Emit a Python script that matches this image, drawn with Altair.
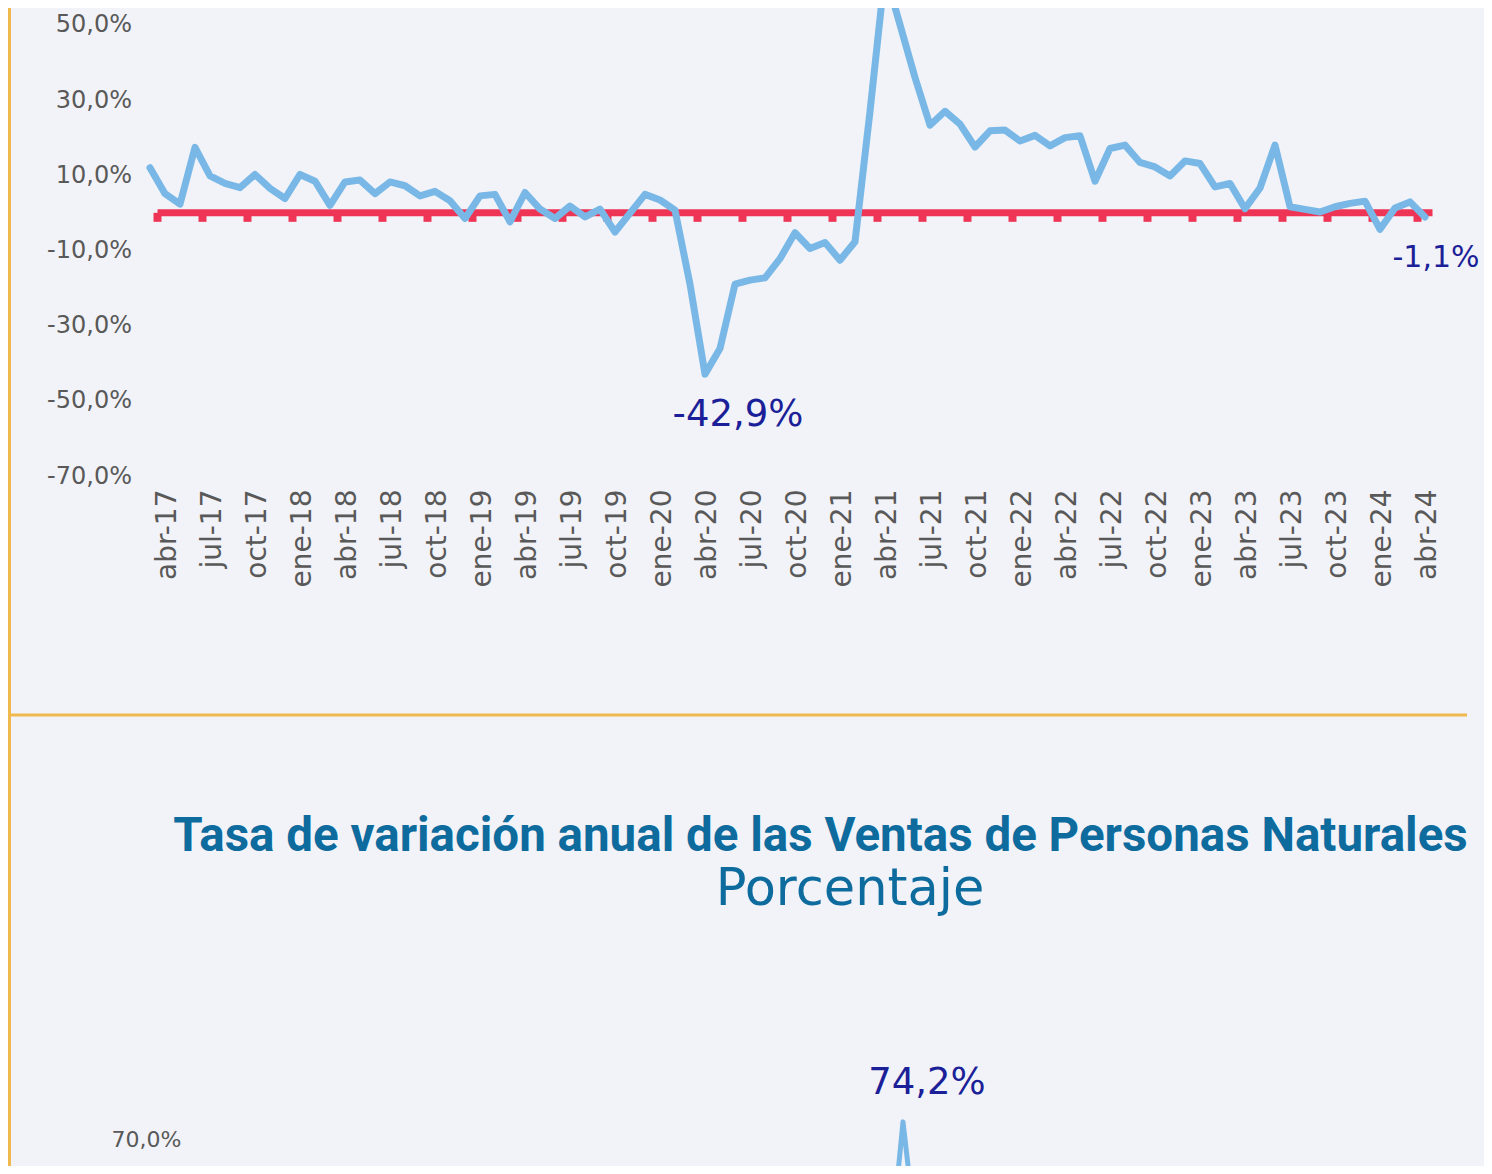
import altair as alt
import pandas as pd

# ---------------- data ----------------
month_names = ["ene", "feb", "mar", "abr", "may", "jun", "jul", "ago", "sep", "oct", "nov", "dic"]
# series runs from mar-17 (index 0) to abr-24 (index 85)
periods = [f"{month_names[(2 + i) % 12]}-{17 + (2 + i) // 12}" for i in range(86)]

top_values = [
    12.0, 5.1, 2.3, 17.4, 9.8, 7.8, 6.7, 10.2, 6.5, 3.8,
    10.2, 8.4, 2.0, 8.2, 8.7, 5.1, 8.2, 7.2, 4.5, 5.7,
    3.2, -1.5, 4.5, 4.9, -2.4, 5.4, 1.0, -1.5, 1.8, -1.1,
    1.0, -5.1, -0.1, 4.9, 3.4, 0.7, -19.0, -42.9, -36.1, -19.0,
    -17.9, -17.3, -12.2, -5.3, -9.5, -7.9, -12.6, -7.7, 27.0, 64.0,
    50.0, 36.0, 23.3, 27.0, 23.6, 17.5, 21.8, 22.0, 19.1, 20.6,
    17.8, 20.0, 20.5, 8.4, 17.1, 18.0, 13.4, 12.2, 9.8, 13.8,
    13.1, 6.9, 7.8, 1.1, 6.6, 18.0, 1.6, 0.9, 0.2, 1.6,
    2.5, 3.1, -4.4, 1.3, 2.9, -1.1,
]

# second chart (only its peak region is visible)
bottom_idx = [48, 49, 50]
bottom_values = [40.0, 74.2, 45.0]

y_ticks_top = [-70, -50, -30, -10, 10, 30, 50]
y_ticks_bottom = [70]
x_label_idx = list(range(1, 86, 3))
zero_tick_idx = [i + 0.5 for i in range(0, 85, 3)]

title_text = "Tasa de variación anual de las Ventas de Personas Naturales"
subtitle_text = "Porcentaje"

# ---------------- style ----------------
BG = "#F2F3F8"
LINE = "#79B8E6"
RED = "#EE3556"
ORANGE = "#F0B94D"
LABEL = "#595959"
ANNOT = "#1B1F98"
TITLE = "#0D6B9E"
FONT = "DejaVu Sans"


def lab(v):
    return f"{v:.1f}".replace(".", ",") + "%"


label_expr_y = "replace(replace(format(datum.value, '.1f'), '.', ','), '\u2212', '-') + '%'"
label_expr_x = "[" + ",".join(f"'{p}'" for p in periods) + "][datum.value]"

df = pd.DataFrame({"i": list(range(86)), "v": top_values, "period": periods})

# plot area of the upper chart
W1, H1 = 1290, 468
PAD_L, PAD_T = 134.5, 0
TOTAL_W, TOTAL_H = 1476, 1158

xs1 = alt.Scale(domain=[-0.5, 85.5], nice=False, zero=False)
ys1 = alt.Scale(domain=[-70, 54.47], nice=False, zero=False)

x_axis1 = alt.Axis(
    values=x_label_idx, labelExpr=label_expr_x, labelAngle=270, labelAlign="right",
    labelBaseline="middle", labelPadding=13, labelOffset=2, labelFont=FONT, labelFontSize=28,
    labelColor=LABEL, ticks=False, domain=False, grid=False, title=None,
    labelOverlap=False, labelFlush=False,
)
y_axis1 = alt.Axis(
    values=y_ticks_top, labelExpr=label_expr_y, labelPadding=11, labelFont=FONT,
    labelFontSize=24, labelColor=LABEL, ticks=False, domain=False, grid=False,
    title=None,
)

one = pd.DataFrame({"k": [0]})
vline = alt.Chart(one).mark_rule(color=ORANGE, strokeWidth=3).encode(
    x=alt.value(-133), y=alt.value(0), y2=alt.value(TOTAL_H)
)
hline = alt.Chart(one).mark_rule(color=ORANGE, strokeWidth=3).encode(
    x=alt.value(-134.5), x2=alt.value(1324.5), y=alt.value(707)
)

ticks = alt.Chart(pd.DataFrame({"t": zero_tick_idx, "y0": 0.0, "y1": -2.4})).mark_rule(
    color=RED, strokeWidth=8
).encode(x=alt.X("t:Q", scale=xs1, axis=None), y=alt.Y("y0:Q", scale=ys1, axis=None), y2="y1")

zero_line = alt.Chart(pd.DataFrame({"x0": [0.5], "x1": [85.5], "y": [0.0]})).mark_rule(
    color=RED, strokeWidth=7
).encode(x=alt.X("x0:Q", scale=xs1, axis=None), x2="x1", y=alt.Y("y:Q", scale=ys1, axis=None))

line1 = alt.Chart(df).mark_line(
    color=LINE, strokeWidth=7, strokeJoin="round", strokeCap="round", clip=False
).encode(x=alt.X("i:Q", scale=xs1, axis=x_axis1), y=alt.Y("v:Q", scale=ys1, axis=y_axis1))

ann_min = alt.Chart(pd.DataFrame({"i": [37], "v": [-42.9], "t": [lab(-42.9)]})).mark_text(
    font=FONT, fontSize=37, color=ANNOT, dx=33, dy=41, align="center", baseline="middle"
).encode(x=alt.X("i:Q", scale=xs1, axis=None), y=alt.Y("v:Q", scale=ys1, axis=None), text="t:N")

ann_last = alt.Chart(pd.DataFrame({"i": [85], "v": [-1.1], "t": [lab(-1.1)]})).mark_text(
    font=FONT, fontSize=30, color=ANNOT, dx=11, dy=41, align="center", baseline="middle"
).encode(x=alt.X("i:Q", scale=xs1, axis=None), y=alt.Y("v:Q", scale=ys1, axis=None), text="t:N")

# ---------------- lower chart (own scales, placed below) ----------------
xs2 = alt.Scale(domain=[-0.5, 85.5], range=[47.7, 1286.1], nice=False, zero=False)
ys2 = alt.Scale(domain=[62.04, 80], range=[1166, 1089], nice=False, zero=False)
y_axis2 = alt.Axis(
    values=y_ticks_bottom, labelExpr=label_expr_y, labelPadding=0, offset=-38.5,
    orient="left", labelFont=FONT, labelFontSize=22, labelColor=LABEL, ticks=False,
    domain=False, grid=False, title=None,
)

dfb = pd.DataFrame({"i": bottom_idx, "v": bottom_values})
line2 = alt.Chart(dfb).mark_line(
    color=LINE, strokeWidth=5, strokeJoin="round", clip=False
).encode(x=alt.X("i:Q", scale=xs2, axis=None), y=alt.Y("v:Q", scale=ys2, axis=y_axis2))

ann_peak = alt.Chart(pd.DataFrame({"i": [49], "v": [74.2], "t": [lab(74.2)]})).mark_text(
    font=FONT, fontSize=37, color=ANNOT, dx=24, dy=-39, align="center", baseline="middle"
).encode(x=alt.X("i:Q", scale=xs2, axis=None), y=alt.Y("v:Q", scale=ys2, axis=None), text="t:N")

title_mark = alt.Chart(pd.DataFrame({"t": [title_text]})).mark_text(
    font="Roboto", fontWeight="bold", fontSize=47.5, color=TITLE, align="center",
    baseline="alphabetic"
).encode(x=alt.value(678), y=alt.value(843), text="t:N")

subtitle_mark = alt.Chart(pd.DataFrame({"t": [subtitle_text]})).mark_text(
    font=FONT, fontSize=51, color=TITLE, align="center", baseline="alphabetic"
).encode(x=alt.value(707.5), y=alt.value(897), text="t:N")

chart = alt.layer(
    vline, hline, ticks, zero_line, line1, ann_min, ann_last,
    line2, ann_peak, title_mark, subtitle_mark,
).resolve_scale(
    x="independent", y="independent"
).properties(
    width=W1, height=H1, background=BG,
    autosize=alt.AutoSizeParams(type="none"),
    padding={"left": PAD_L, "top": PAD_T, "right": TOTAL_W - PAD_L - W1, "bottom": TOTAL_H - PAD_T - H1},
).configure_view(stroke=None)

chart.save("out.html", embed_options={"renderer": "svg", "actions": False})
